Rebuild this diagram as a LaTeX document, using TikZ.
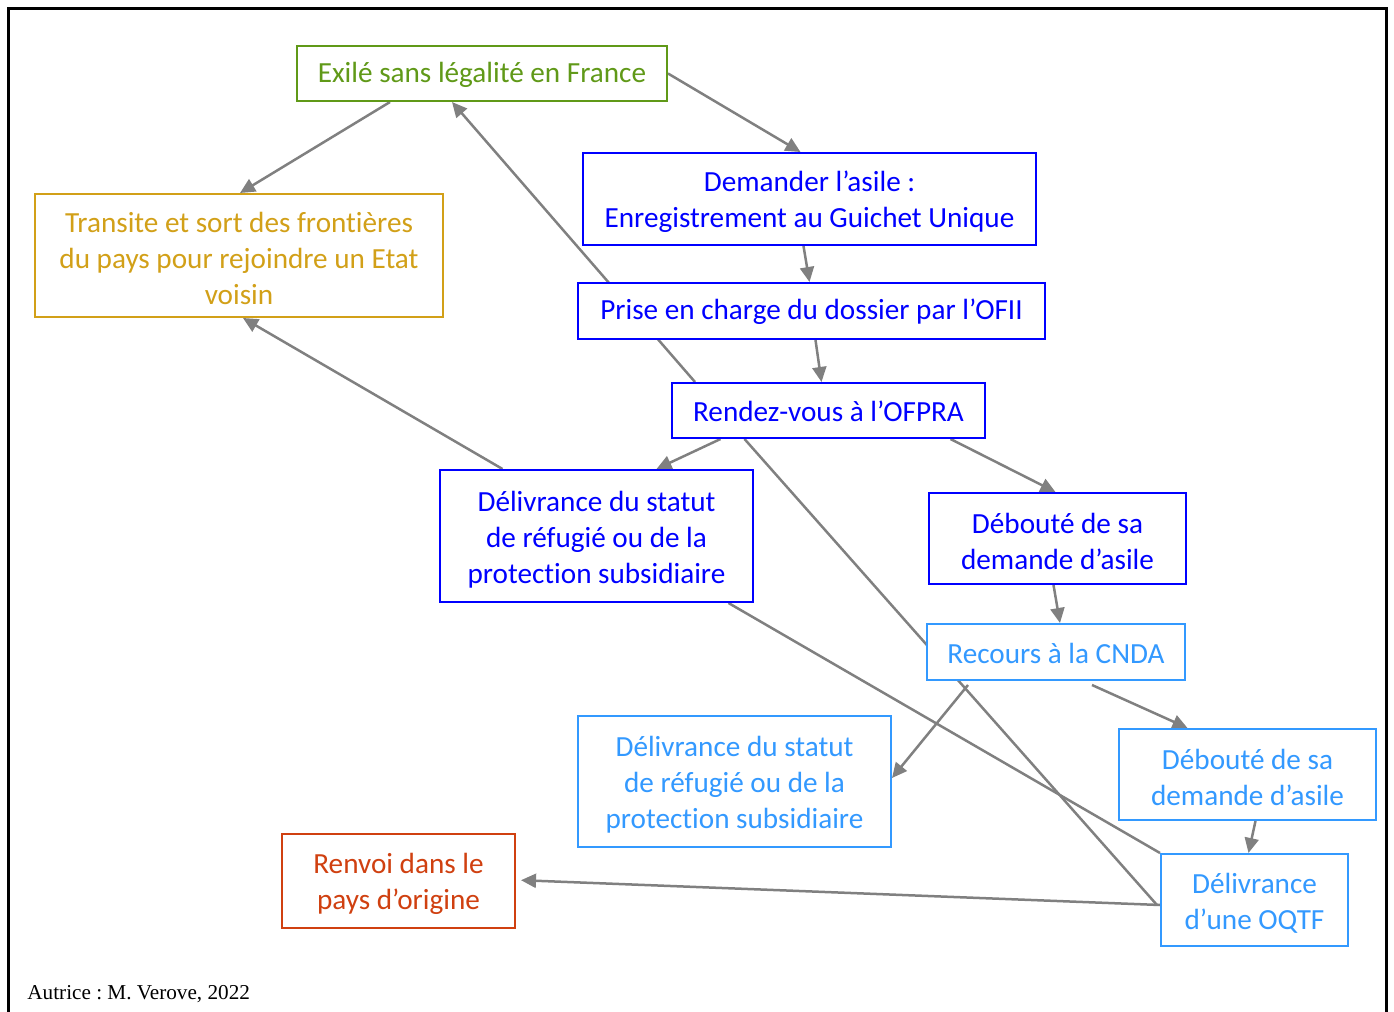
\documentclass[tikz,border=0pt]{standalone}
\usepackage{fontspec}
\setmainfont{Carlito}[Ligatures=NoCommon]
\newfontfamily\autricefont{Liberation Serif}
\usetikzlibrary{arrows.meta,backgrounds}
\frenchspacing
\newcommand\onestrut{\rule{0pt}{11.5pt}}
\newcommand\multistrut{\rule{0pt}{13.5pt}}

\definecolor{exilgreen}{RGB}{96,153,24}
\definecolor{transgold}{RGB}{210,160,24}
\definecolor{renvoired}{RGB}{208,64,16}
\definecolor{recblue}{RGB}{51,153,255}
\definecolor{linkgray}{RGB}{128,128,128}

\begin{document}
\begin{tikzpicture}[x=0.5pt,y=-0.5pt,
  box/.style={draw=#1,text=#1,fill=white,line width=1pt,inner sep=0pt,align=center,
    font=\fontsize{14.6}{18}\selectfont},
  link/.style={draw=linkgray,line width=1.25pt},
  arr/.style={link,-{Triangle[length=7.5pt,width=7pt]}}]
\useasboundingbox (0,0) rectangle (1394,1012);
\draw [line width=1.5pt] (8,1012) -- (8,8) -- (1386,8) -- (1386,1012);

\node [box=exilgreen, minimum width=185pt, minimum height=27.5pt] (exile) at (482,73.5) {\onestrut Exilé sans légalité en France};
\node [box=transgold, minimum width=204pt, minimum height=61.5pt] (transit) at (239,255.5)
  {\multistrut Transite et sort des frontières\\du pays pour rejoindre un Etat\\voisin};
\node [box=blue, minimum width=226.5pt, minimum height=46pt] (demande) at (809.5,199)
  {\multistrut Demander l’asile :\\Enregistrement au Guichet Unique};
\node [box=blue, minimum width=233.5pt, minimum height=28pt] (ofii) at (811.5,311) {\onestrut Prise en charge du dossier par l’OFII};
\node [box=blue, minimum width=156.5pt, minimum height=27.5pt] (ofpra) at (828.5,410.5) {\onestrut Rendez-vous à l’OFPRA};
\node [box=blue, minimum width=156.5pt, minimum height=66pt] (statut) at (596.5,536)
  {\multistrut Délivrance du statut\\de réfugié ou de la\\protection subsidiaire};
\node [box=blue, minimum width=128.5pt, minimum height=45.5pt] (deboute) at (1057.5,538.5)
  {\multistrut Débouté de sa\\demande d’asile};
\node [box=recblue, minimum width=129pt, minimum height=28pt] (cnda) at (1056,652) {\onestrut Recours à la CNDA};
\node [box=recblue, minimum width=156.5pt, minimum height=65.5pt] (statutb) at (734.5,781.5)
  {\multistrut Délivrance du statut\\de réfugié ou de la\\protection subsidiaire};
\node [box=recblue, minimum width=128.5pt, minimum height=45.5pt] (debouteb) at (1247.5,774.5)
  {\multistrut Débouté de sa\\demande d’asile};
\node [box=recblue, minimum width=93.5pt, minimum height=46pt] (oqtf) at (1254.5,900)
  {\multistrut Délivrance\\d’une OQTF};
\node [box=renvoired, minimum width=116.5pt, minimum height=47pt] (renvoi) at (398.5,881)
  {\multistrut Renvoi dans le\\pays d’origine};

\node [anchor=base west, inner sep=0pt, font=\autricefont\fontsize{10.6}{12}\selectfont] (autrice) at (27,999) {Autrice : M. Verove, 2022};

% connectors, behind the boxes
\begin{scope}[on background layer]
\draw [arr] (exile.east) -- ([xshift=-4.5pt]demande.north);
\draw [arr] ([xshift=-46pt]exile.south) -- ([xshift=0.5pt]transit.north);
\draw [arr] ([xshift=-3pt]demande.south) -- ([xshift=-1pt]ofii.north);
\draw [arr] ([xshift=2pt]ofii.south) -- ([xshift=-3.5pt]ofpra.north);
\draw [arr] ([xshift=12pt]ofpra.north west) -- ([xshift=-15pt]exile.south);
\draw [arr] ([xshift=-54pt]ofpra.south) -- ([xshift=30pt]statut.north);
\draw [arr] ([xshift=61pt]ofpra.south) -- ([xshift=-1pt]deboute.north);
\draw [link] ([xshift=-42pt]ofpra.south) -- ([xshift=-1.5pt,yshift=-2.5pt]oqtf.west);
\draw [arr] ([xshift=-47pt]statut.north) -- ([xshift=2pt]transit.south);
\draw [link] ([xshift=66pt]statut.south) -- (oqtf.north west);
\draw [arr] ([xshift=-2pt]deboute.south) -- ([xshift=2pt]cnda.north);
\draw [arr] ([xshift=-44pt,yshift=-2pt]cnda.south) -- ([yshift=1.75pt]statutb.east);
\draw [arr] ([xshift=18pt,yshift=-2pt]cnda.south) -- ([xshift=-30pt]debouteb.north);
\draw [arr] ([xshift=4pt]debouteb.south) -- ([xshift=-3pt]oqtf.north);
\draw [arr, shorten >=2.5pt] ([yshift=-2.5pt]oqtf.west) -- ([yshift=0.5pt]renvoi.east);
\end{scope}
\end{tikzpicture}
\end{document}
